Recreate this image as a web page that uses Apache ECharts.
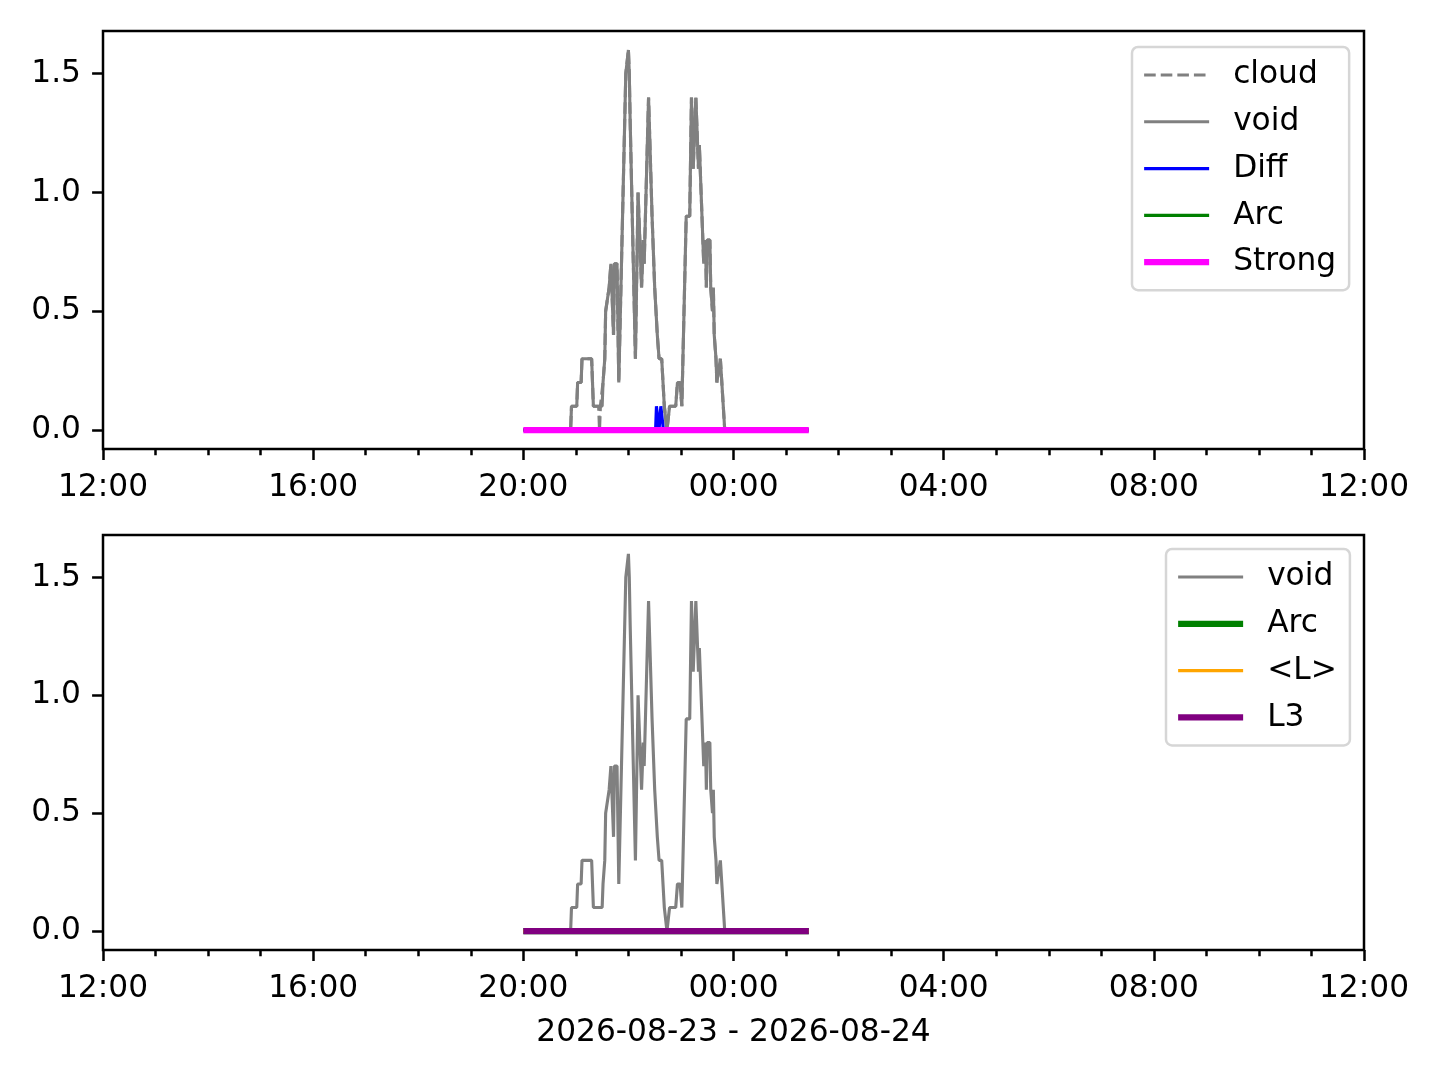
<!DOCTYPE html>
<html><head><meta charset="utf-8">
<script src="https://cdn.jsdelivr.net/npm/echarts@6/dist/echarts.min.js"></script>
<style>html,body{margin:0;padding:0;background:#fff}#c{width:1440px;height:1080px}</style>
</head><body><div id="c"></div><script>
// ---- data ----
const voidTimes = [
 '2026-08-23 20:00','2026-08-23 20:54','2026-08-23 20:55','2026-08-23 21:01','2026-08-23 21:02',
 '2026-08-23 21:06','2026-08-23 21:07','2026-08-23 21:18','2026-08-23 21:20','2026-08-23 21:26',
 '2026-08-23 21:27','2026-08-23 21:28','2026-08-23 21:30','2026-08-23 21:31','2026-08-23 21:33',
 '2026-08-23 21:34','2026-08-23 21:36','2026-08-23 21:38','2026-08-23 21:40','2026-08-23 21:41',
 '2026-08-23 21:42','2026-08-23 21:43','2026-08-23 21:44','2026-08-23 21:46','2026-08-23 21:47',
 '2026-08-23 21:49','2026-08-23 21:57','2026-08-23 21:58','2026-08-23 22:00','2026-08-23 22:01',
 '2026-08-23 22:02','2026-08-23 22:03','2026-08-23 22:08','2026-08-23 22:11','2026-08-23 22:15',
 '2026-08-23 22:17','2026-08-23 22:18','2026-08-23 22:23','2026-08-23 22:27','2026-08-23 22:30',
 '2026-08-23 22:33','2026-08-23 22:35','2026-08-23 22:38','2026-08-23 22:41','2026-08-23 22:44',
 '2026-08-23 22:47','2026-08-23 22:54','2026-08-23 22:56','2026-08-23 22:59','2026-08-23 23:01',
 '2026-08-23 23:06','2026-08-23 23:10','2026-08-23 23:12','2026-08-23 23:14','2026-08-23 23:17',
 '2026-08-23 23:19','2026-08-23 23:20','2026-08-23 23:21','2026-08-23 23:22','2026-08-23 23:25',
 '2026-08-23 23:26','2026-08-23 23:28','2026-08-23 23:29','2026-08-23 23:30','2026-08-23 23:33',
 '2026-08-23 23:34','2026-08-23 23:36','2026-08-23 23:37','2026-08-23 23:38','2026-08-23 23:40',
 '2026-08-23 23:41','2026-08-23 23:43','2026-08-23 23:45','2026-08-23 23:46','2026-08-23 23:50',
 '2026-08-24 01:26'
];
const voidValues = [
 0,0,0.1,0.1,0.2,
 0.2,0.3,0.3,0.1,0.1,
 0.1,0.1,0.1,0.2,0.3,
 0.5,0.5,0.6,0.7,0.7,
 0.5,0.4,0.7,0.7,0.7,
 0.2,1.5,1.5,1.6,1.5,
 1.3,1.3,0.3,1.0,0.6,
 0.8,0.7,1.4,0.9,0.6,
 0.4,0.3,0.3,0.1,0,
 0.1,0.1,0.2,0.2,0.1,
 0.9,0.9,1.4,1.1,1.4,
 1.2,1.1,1.2,1.1,0.8,
 0.7,0.8,0.6,0.8,0.8,
 0.6,0.5,0.6,0.4,0.3,
 0.2,0.2,0.3,0.3,0,
 0
];
const cloudValues = [
 0,0,0.1,0.1,0.2,
 0.2,0.3,0.3,0.1,0.1,
 0.0,0.1,0.1,0.2,0.3,
 0.5,0.5,0.6,0.7,0.7,
 0.5,0.4,0.7,0.7,0.7,
 0.2,1.5,1.5,1.6,1.5,
 1.3,1.3,0.3,1.0,0.6,
 0.8,0.7,1.4,0.9,0.6,
 0.4,0.3,0.3,0.1,0,
 0.1,0.1,0.2,0.2,0.1,
 0.9,0.9,1.4,1.1,1.4,
 1.2,1.1,1.2,1.1,0.8,
 0.7,0.8,0.6,0.8,0.8,
 0.6,0.5,0.6,0.4,0.3,
 0.2,0.2,0.3,0.3,0,
 0
];
const diffTimes = ['2026-08-23 20:00','2026-08-23 22:31','2026-08-23 22:32','2026-08-23 22:33','2026-08-23 22:35',
 '2026-08-23 22:37','2026-08-23 22:39','2026-08-23 22:40','2026-08-24 01:26'];
const diffValues = [0,0,0.1,0.1,0,0.1,0.1,0,0];
const flatTimes = ['2026-08-23 20:00','2026-08-24 01:26'];
const arcValues = [0,0];
const strongValues = [0,0];
const lValues = [0,0];
const l3Values = [0,0];
const xRange = ['2026-08-23 12:00','2026-08-24 12:00'];
const xMajorTicks = ['2026-08-23 12:00','2026-08-23 16:00','2026-08-23 20:00','2026-08-24 00:00','2026-08-24 04:00','2026-08-24 08:00','2026-08-24 12:00'];
const yTicks = [0, 0.5, 1.0, 1.5];
const yRange = [-0.08, 1.68];
const xTitle = '2026-08-23 - 2026-08-24';

// ---- helpers ----
function ts(s){const [d,t]=s.split(' ');const [Y,M,D]=d.split('-').map(Number);const [h,m]=t.split(':').map(Number);return new Date(Y,M-1,D,h,m).getTime();}
function pairs(times, vals){return times.map((t,i)=>[ts(t), vals[i]]);}
const xMin = ts(xRange[0]), xMax = ts(xRange[1]);
const majorTs = xMajorTicks.map(ts);
const minorTs = []; for (let t = xMin; t <= xMax; t += 3600000) minorTs.push(t);
function hhmm(v){const d=new Date(v);return String(d.getHours()).padStart(2,'0')+':'+String(d.getMinutes()).padStart(2,'0');}

const FONT = 'DejaVu Sans';
const FS = 31.25;
const LW1 = 3.125, LW2 = 6.25, AXW = 2.5;

function majorX(gridIndex, withName){
  const a = {
    type:'value', gridIndex, min:xMin, max:xMax, position:'bottom', scale:true,
    axisLine:{show:false, onZero:false},
    splitLine:{show:false},
    axisTick:{show:true, length:10.9, lineStyle:{color:'#000', width:AXW}, customValues: majorTs},
    axisLabel:{show:true, customValues: majorTs, formatter: (v)=>hhmm(v), fontFamily:FONT, fontSize:FS, color:'#000', margin:23},
  };
  if (withName){
    a.name = xTitle; a.nameLocation='middle'; a.nameGap=67;
    a.nameTextStyle={fontFamily:FONT,fontSize:FS,color:'#000'};
  }
  return a;
}
function minorX(gridIndex){
  return {
    type:'value', gridIndex, min:xMin, max:xMax, position:'bottom', scale:true,
    axisLine:{show:false, onZero:false}, splitLine:{show:false},
    axisTick:{show:true, length:6.25, lineStyle:{color:'#000', width:AXW}, customValues: minorTs},
    axisLabel:{show:false}
  };
}
function yAx(gridIndex){
  return {
    type:'value', gridIndex, min:yRange[0], max:yRange[1],
    axisLine:{show:false, onZero:false}, splitLine:{show:false},
    axisTick:{show:true, length:10.9, lineStyle:{color:'#000', width:AXW}, customValues: yTicks},
    axisLabel:{show:true, customValues: yTicks, formatter:(v)=>Number(v).toFixed(1), fontFamily:FONT, fontSize:FS, color:'#000', margin:22, padding:[8,0,0,0]}
  };
}
function ln(name, xi, yi, data, color, width, type, z){
  return {name, type:'line', xAxisIndex:xi, yAxisIndex:yi, data, symbol:'none', showSymbol:false,
    color, lineStyle:{color, width, type: type||'solid'}, z: z||2, animation:false, emphasis:{disabled:true}};
}
const legendCommon = {
  orient:'vertical', itemWidth:65, itemHeight:14, itemGap:14.8,
  padding:[12,13,12,9],
  backgroundColor:'#fff', borderColor:'#d6d6d6', borderWidth:2.5, borderRadius:6,
  textStyle:{fontFamily:FONT, fontSize:FS, color:'#000', lineHeight:32, padding:[0,0,0,19]},
  lineStyle:{width:'inherit', type:'inherit'},
  itemStyle:{opacity:0},
  selectedMode:false
};

const option = {
  animation:false,
  backgroundColor:'#fff',
  grid:[
    {left:103, top:31, width:1261, height:418, show:true, borderColor:'#000', borderWidth:AXW, backgroundColor:'transparent'},
    {left:103, top:535, width:1261, height:415, show:true, borderColor:'#000', borderWidth:AXW, backgroundColor:'transparent'}
  ],
  xAxis:[majorX(0,false), minorX(0), majorX(1,true), minorX(1)],
  yAxis:[yAx(0), yAx(1)],
  legend:[
    Object.assign({}, legendCommon, {left:1132, top:47, data:['cloud','void','Diff','Arc','Strong']}),
    Object.assign({}, legendCommon, {left:1166, top:549, data:['void_b','Arc_b','<L>','L3'], formatter:(n)=>n.replace('_b','')})
  ],
  series:[
    ln('cloud', 0, 0, pairs(voidTimes, cloudValues), '#808080', LW1, [11.6,5], 2),
    ln('void', 0, 0, pairs(voidTimes, voidValues), '#808080', LW1, 'solid', 3),
    ln('Diff', 0, 0, pairs(diffTimes, diffValues), '#0000ff', LW1, 'solid', 4),
    ln('Arc', 0, 0, pairs(flatTimes, arcValues), '#008000', LW1, 'solid', 5),
    ln('Strong', 0, 0, pairs(flatTimes, strongValues), '#ff00ff', LW2, 'solid', 6),
    ln('void_b', 2, 1, pairs(voidTimes, voidValues), '#808080', LW1, 'solid', 3),
    ln('Arc_b', 2, 1, pairs(flatTimes, arcValues), '#008000', LW2, 'solid', 4),
    ln('<L>', 2, 1, pairs(flatTimes, lValues), '#ffa500', LW1, 'solid', 5),
    ln('L3', 2, 1, pairs(flatTimes, l3Values), '#800080', LW2, 'solid', 6)
  ]
};
const chart = echarts.init(document.getElementById('c'), null, {renderer:'canvas'});
chart.setOption(option);
</script></body></html>
